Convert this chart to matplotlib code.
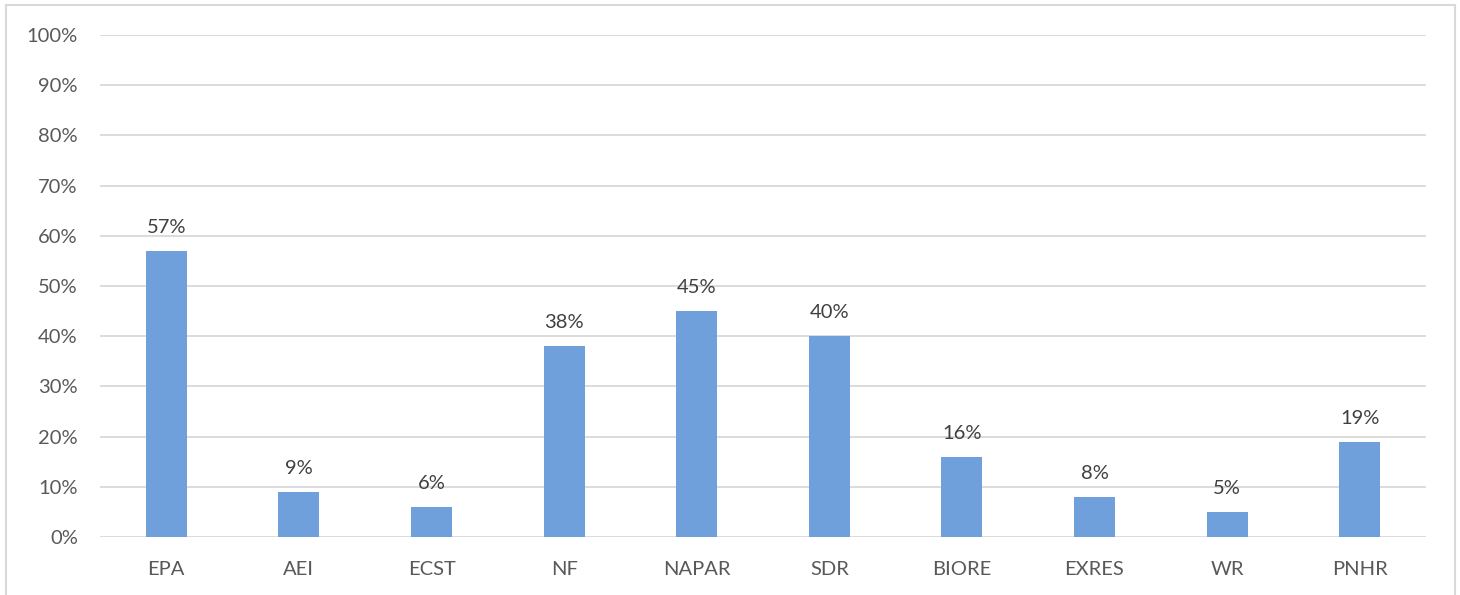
import matplotlib
matplotlib.use("Agg")
import matplotlib.pyplot as plt
from matplotlib.lines import Line2D
from matplotlib.ticker import FuncFormatter

categories = ["EPA", "AEI", "ECST", "NF", "NAPAR", "SDR", "BIORE", "EXRES", "WR", "PNHR"]
values = [57, 9, 6, 38, 45, 40, 16, 8, 5, 19]
yticks = [0, 10, 20, 30, 40, 50, 60, 70, 80, 90, 100]

plt.rcParams['font.family'] = ['Lato', 'DejaVu Sans']

W, H = 1460, 595
fig = plt.figure(figsize=(W / 100, H / 100), dpi=100)
ax = fig.add_axes([100 / W, (H - 537) / H, (1426 - 100) / W, (537 - 35) / H])

x = range(len(categories))
ax.bar(x, values, width=0.31, color="#6FA0DC", zorder=3)
for xi, v in zip(x, values):
    ax.text(xi, v + 3.0, f"{v}%", ha="center", va="bottom", fontsize=14.5, color="#404040")

ax.set_xlim(-0.5, len(categories) - 0.5)
ax.set_ylim(0, 100)
ax.set_yticks(yticks)
ax.yaxis.set_major_formatter(FuncFormatter(lambda v, p: f"{int(v)}%"))
ax.set_xticks(list(x))
ax.set_xticklabels(categories)
ax.grid(axis="y", color="#D9D9D9", linewidth=1.3, zorder=0)
for s in ax.spines.values():
    s.set_visible(False)
ax.tick_params(axis="both", length=0, labelsize=14.5, labelcolor="#595959")
ax.tick_params(axis="y", pad=16)
ax.tick_params(axis="x", pad=17)

# light chart border (left, top, right)
c = "#D9D9D9"
fig.add_artist(Line2D([6 / W, 6 / W], [0, 1 - 5 / H], color=c, lw=1.5, transform=fig.transFigure))
fig.add_artist(Line2D([6 / W, 1455 / W], [1 - 5 / H, 1 - 5 / H], color=c, lw=1.5, transform=fig.transFigure))
fig.add_artist(Line2D([1455 / W, 1455 / W], [0, 1 - 5 / H], color=c, lw=1.5, transform=fig.transFigure))

fig.savefig("out.png", dpi=100, facecolor="white")
